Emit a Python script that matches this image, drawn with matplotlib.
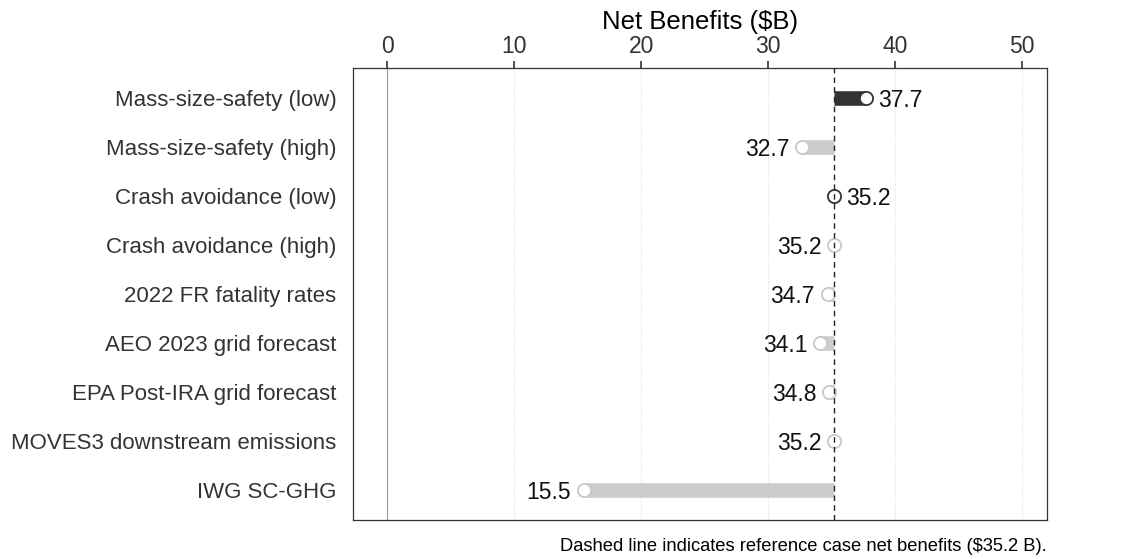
import numpy as np
import matplotlib.pyplot as plt

plt.rcParams['font.family'] = ['Liberation Sans', 'DejaVu Sans']

# data
cases = ['Mass-size-safety (low)', 'Mass-size-safety (high)', 'Crash avoidance (low)',
         'Crash avoidance (high)', '2022 FR fatality rates', 'AEO 2023 grid forecast',
         'EPA Post-IRA grid forecast', 'MOVES3 downstream emissions', 'IWG SC-GHG']
net_benefits = [37.7, 32.7, 35.2, 35.2, 34.7, 34.1, 34.8, 35.2, 15.5]
is_low = [True, False, True, False, False, False, False, False, False]
reference = 35.2

fig, ax = plt.subplots(figsize=(11.21, 5.59), dpi=100)
fig.subplots_adjust(left=0.315, right=0.934, top=0.878, bottom=0.07)

y = np.arange(len(cases))
for yi, val, low in zip(y, net_benefits, is_low):
    col = '#333333' if low else '#cccccc'
    edge = '#333333' if low else '#c8c8c8'
    ax.plot([reference, val], [yi, yi], color=col, lw=10.5, solid_capstyle='butt', zorder=3)
    ax.plot(val, yi, 'o', ms=9.5, mfc='white', mec=edge, mew=1.3, zorder=4)
    if val >= reference and low:
        ax.text(val + 1.0, yi, f'{val:.1f}', va='center_baseline', ha='left',
                fontsize=16.5, color='#111111')
    else:
        ax.text(val - 1.0, yi, f'{val:.1f}', va='center_baseline', ha='right',
                fontsize=16.5, color='#111111')

ax.axvline(reference, color='#222222', lw=1, ls=(0, (4, 3)), zorder=5)
ax.axvline(0, color='#999999', lw=0.8, zorder=1)

ax.set_xlim(-2.7, 52)
ax.set_ylim(len(cases) - 0.4, -0.6)
ax.set_yticks(y)
ax.set_yticklabels(cases, fontsize=16, color='#333333')
ax.tick_params(axis='y', length=0, pad=12)

ax.xaxis.tick_top()
ax.xaxis.set_label_position('top')
ax.set_xticks([0, 10, 20, 30, 40, 50])
ax.tick_params(axis='x', labelsize=16.5, colors='#333333', length=5, width=1.2, pad=2)
ax.set_xlabel('Net Benefits ($B)', fontsize=18.5, labelpad=5)
ax.grid(axis='x', color='#e4e4e4', lw=0.8, ls=(0, (1, 1)), zorder=0)
ax.set_axisbelow(True)

for s in ax.spines.values():
    s.set_color('#333333')
    s.set_linewidth(0.9)

fig.text(0.934, 0.008, 'Dashed line indicates reference case net benefits ($35.2 B).',
         ha='right', va='bottom', fontsize=13.2)

fig.savefig('out.png', dpi=100)
